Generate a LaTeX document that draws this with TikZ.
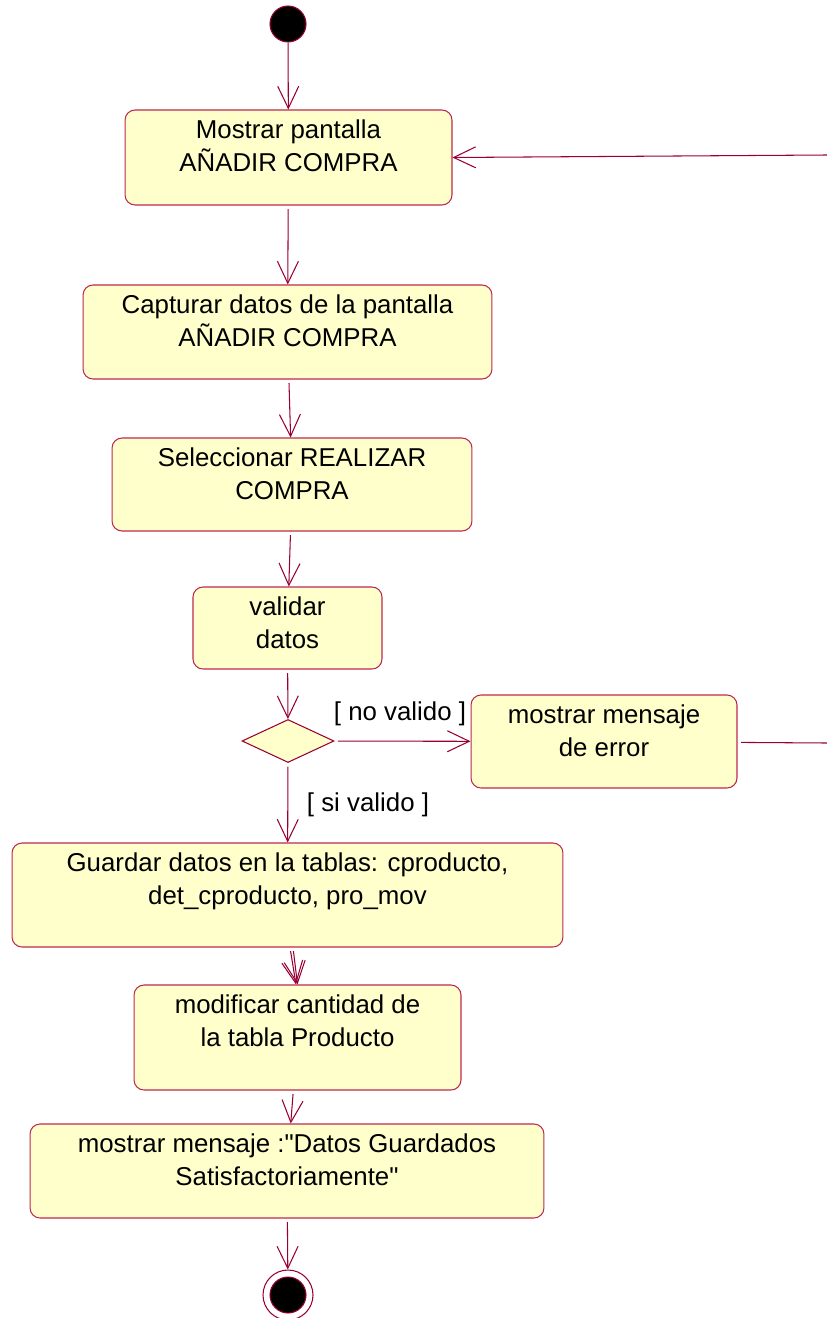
\documentclass[tikz,border=0pt]{standalone}
\usepackage{fontspec}
\setmainfont{Liberation Sans}
\usetikzlibrary{positioning,arrows.meta,shapes.geometric}
\definecolor{flowline}{RGB}{153,0,51}
\definecolor{boxfill}{RGB}{255,255,204}
\definecolor{boxedge}{RGB}{190,40,80}

\begin{document}
\begin{tikzpicture}[x=0.02cm, y=-0.02cm,
  act/.style={draw=boxedge, fill=boxfill, rounded corners=0.2cm,
    line width=0.6pt, inner sep=0pt},
  txt/.style={font=\fontsize{14.7}{18.7}\selectfont, align=center,
    inner sep=0pt},
  flow/.style={draw=flowline, line width=0.6pt,
    -{Straight Barb[length=0.44cm, width=0.42cm]}},
  plain/.style={draw=flowline, line width=0.6pt},
  startdot/.style={circle, fill=black, draw=flowline, line width=0.6pt,
    minimum size=0.72cm, inner sep=0pt},
]
  \useasboundingbox (0,0) rectangle (827,1318);

  % Initial state
  \node[startdot] (start) at (288,24) {};

  % Activities
  \node[act, minimum width=6.54cm, minimum height=1.9cm] (b1) at (288.5,157.5) {};
  \node[txt, below=0.2cm of b1.north] (t1) {Mostrar pantalla\\AÑADIR COMPRA};

  \node[act, minimum width=8.18cm, minimum height=1.88cm] (b2) at (287.5,332) {};
  \node[txt, below=0.2cm of b2.north] (t2) {Capturar datos de la pantalla\\AÑADIR COMPRA};

  \node[act, minimum width=7.2cm, minimum height=1.86cm] (b3) at (292,484.5) {};
  \node[txt, below=0.2cm of b3.north] (t3) {Seleccionar REALIZAR\\COMPRA};

  \node[act, minimum width=3.78cm, minimum height=1.64cm] (b4) at (287.5,628) {};
  \node[txt, below=0.2cm of b4.north] (t4) {validar\\datos};

  % Decision
  \node[diamond, draw=flowline, fill=boxfill, line width=0.6pt, inner sep=0pt,
    minimum width=1.84cm, minimum height=0.86cm] (dec) at (288,741) {};

  \node[act, minimum width=5.32cm, minimum height=1.86cm] (b5) at (604,741.5) {};
  \node[txt, below=0.2cm of b5.north] (t5) {mostrar mensaje\\de error};

  \node[act, minimum width=11.02cm, minimum height=2.08cm] (b6) at (287.5,895) {};
  \node[txt, below=0.2cm of b6.north] (t6) {Guardar datos en la tablas: cproducto,\\det\_cproducto, pro\_mov};

  \node[act, minimum width=6.54cm, minimum height=2.1cm] (b7) at (297.5,1037.5) {};
  \node[txt, below=0.2cm of b7.north] (t7) {modificar cantidad de\\la tabla Producto};

  \node[act, minimum width=10.28cm, minimum height=1.88cm] (b8) at (287,1171) {};
  \node[txt, below=0.2cm of b8.north] (t8) {mostrar mensaje :\textquotedbl Datos Guardados\\Satisfactoriamente\textquotedbl};

  % Final state
  \node[circle, draw=flowline, fill=white, line width=0.6pt, minimum size=1.0cm,
    inner sep=0pt] (fin) at (288,1295) {};
  \node[startdot] (findot) at (fin) {};

  % Loop ends at the right edge
  \coordinate (redge) at (827,743);
  \coordinate (rtop) at (827,155);

  % Guard labels
  \node[txt] (nov) at (400,714) {[ no valido ]};
  \node[txt] (siv) at (368,805) {[ si valido ]};

  % Transitions
  \draw[flow] (start) -- (b1);
  \draw[flow, shorten <=2pt] (b1) -- (b2);
  \draw[flow, shorten <=2pt] (b2) -- (b3);
  \draw[flow, shorten <=2pt] (b3) -- (b4);
  \draw[flow, shorten <=2pt] (b4) -- (dec);
  \draw[flow, shorten <=2pt] (dec) -- (b5);
  \draw[plain, shorten <=2pt] (b5) -- (redge);
  \draw[flow] (rtop) -- (b1.east);
  \draw[flow, shorten <=2pt] (dec) -- (b6);
  \draw[flow, shorten <=2pt] ([xshift=0.05cm]b6.south) -- ([xshift=-0.03cm]b7.north);
  \draw[flow, shorten <=2pt] ([xshift=0.11cm]b6.south) -- (b7.north);
  \draw[flow, shorten <=2pt] (b7) -- (b8);
  \draw[flow, shorten <=2pt] (b8) -- (fin);
\end{tikzpicture}
\end{document}
